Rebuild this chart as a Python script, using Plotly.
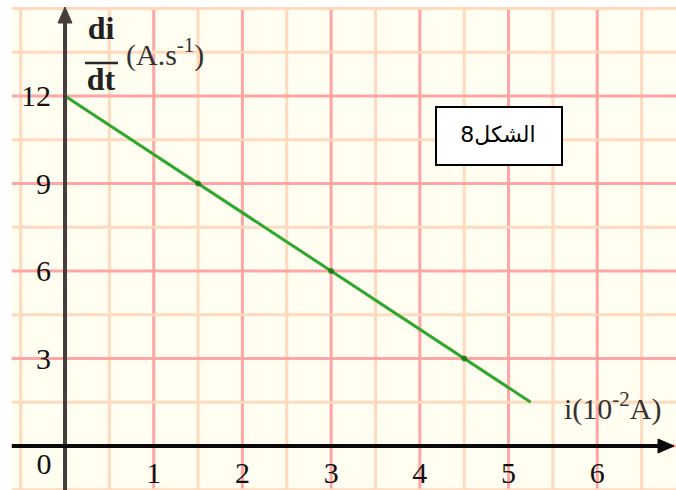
import plotly.graph_objects as go

# Measured points: current i (in 10^-2 A) and di/dt (A.s^-1)
i_vals = [0, 1.5, 3, 4.5, 5.25]
didt_vals = [12, 9, 6, 3, 1.5]

x_ticks = [1, 2, 3, 4, 5, 6]
y_ticks = [3, 6, 9, 12]

W, H = 676, 490
X_RANGE = [-0.733, 6.888]
Y_RANGE = [-1.508, 15.29]

STRONG = "rgb(255,165,165)"
LIGHT = "rgb(255,218,190)"


def px(xp):
    return xp / W


def py(yp):
    return 1 - yp / H


def dx(xp):
    return X_RANGE[0] + xp / W * (X_RANGE[1] - X_RANGE[0])


def dy(yp):
    return Y_RANGE[1] - yp / H * (Y_RANGE[1] - Y_RANGE[0])


shapes = []

# cream paper background of the graph sheet
shapes.append(dict(type="rect", xref="x", yref="y", x0=-0.6, x1=7.2, y0=-2, y1=15.05,
                   fillcolor="rgb(255,254,240)", line=dict(width=0), layer="below"))

# half-unit and unit vertical lines
for k in range(-1, 14):
    v = k * 0.5
    col = STRONG if k % 2 == 0 else LIGHT
    shapes.append(dict(type="line", xref="x", yref="y", x0=v, x1=v, y0=-2, y1=15.05,
                       line=dict(color=col, width=3), layer="below"))

# horizontal lines every 1.5
for k in range(-1, 11):
    v = k * 1.5
    col = STRONG if k % 2 == 0 and k < 10 else LIGHT
    shapes.append(dict(type="line", xref="x", yref="y", x0=-0.6, x1=7.2, y0=v, y1=v,
                       line=dict(color=col, width=3), layer="below"))

# frame of the figure tag (below the traces so its text stays visible)
shapes.append(dict(type="rect", xref="x", yref="y",
                   x0=dx(436), x1=dx(562), y0=dy(165), y1=dy(107),
                   fillcolor="white", line=dict(color="black", width=2), layer="below"))

# axes
Y_AX = "rgb(70,62,58)"
X_AX = "rgb(10,10,10)"
shapes.append(dict(type="line", xref="x", yref="y", x0=0, x1=0, y0=-2, y1=14.6,
                   line=dict(color=Y_AX, width=4)))
shapes.append(dict(type="line", xref="x", yref="y", x0=-0.6, x1=6.75, y0=0, y1=0,
                   line=dict(color=X_AX, width=4)))
# arrowheads drawn in pixel units around the axis ends
shapes.append(dict(type="path", xref="paper", yref="paper",
                   path=f"M {px(65)} {py(7)} L {px(58)} {py(23)} L {px(72)} {py(23)} Z",
                   fillcolor=Y_AX, line=dict(color=Y_AX, width=1)))
shapes.append(dict(type="path", xref="paper", yref="paper",
                   path=f"M {px(674)} {py(446)} L {px(658)} {py(439)} L {px(658)} {py(453)} Z",
                   fillcolor=X_AX, line=dict(color=X_AX, width=1)))

# fraction bar of di/dt
shapes.append(dict(type="line", xref="paper", yref="paper",
                   x0=px(85), x1=px(118), y0=py(63), y1=py(63),
                   line=dict(color="rgb(40,40,40)", width=2.5)))

fig = go.Figure()

fig.add_trace(go.Scatter(
    x=i_vals, y=didt_vals, mode="lines+markers",
    line=dict(color="rgb(45,168,45)", width=3),
    marker=dict(size=[0, 6, 6, 6, 0], color="rgb(10,110,10)", line=dict(width=0)),
    hoverinfo="skip", showlegend=False, cliponaxis=False,
))

SERIF = "Liberation Serif"


def label(xp, yp, text, pos, size, color="#222", family=SERIF):
    fig.add_trace(go.Scatter(
        x=[dx(xp)], y=[dy(yp)], mode="text", text=[text], textposition=pos,
        textfont=dict(family=family, size=size, color=color),
        hoverinfo="skip", showlegend=False, cliponaxis=False,
    ))


# origin label
label(44, 466, "0", "middle center", 30, "#111")

# y-axis title as a fraction
label(101, 31, "<b>di</b>", "middle center", 32)
label(101, 82, "<b>dt</b>", "middle center", 32)
label(126, 57, "(A.s<sup>-1</sup>)", "middle right", 30, "#333")

# x-axis title
label(564, 411, "i(10<sup>-2</sup>A)", "middle right", 30, "#333")

# figure tag
label(498, 136, "الشكل8", "middle center", 22, "#000", "DejaVu Sans")

fig.update_layout(
    width=W, height=H,
    margin=dict(l=0, r=0, t=0, b=0, autoexpand=False),
    paper_bgcolor="white", plot_bgcolor="white",
    shapes=shapes,
    xaxis=dict(range=X_RANGE, showgrid=False, zeroline=False, showline=False,
               tickvals=x_ticks, ticktext=[str(v) for v in x_ticks],
               ticks="", anchor="free", side="bottom", automargin=False,
               position=(0 - Y_RANGE[0]) / (Y_RANGE[1] - Y_RANGE[0]),
               ticklabelstandoff=6,
               tickfont=dict(family=SERIF, size=30, color="#111")),
    yaxis=dict(range=Y_RANGE, showgrid=False, zeroline=False, showline=False,
               tickvals=y_ticks, ticktext=[str(v) for v in y_ticks],
               ticks="", anchor="free", side="left", automargin=False,
               position=(0 - X_RANGE[0]) / (X_RANGE[1] - X_RANGE[0]),
               ticklabelstandoff=14,
               tickfont=dict(family=SERIF, size=30, color="#111")),
)

fig.write_html("out.html")
